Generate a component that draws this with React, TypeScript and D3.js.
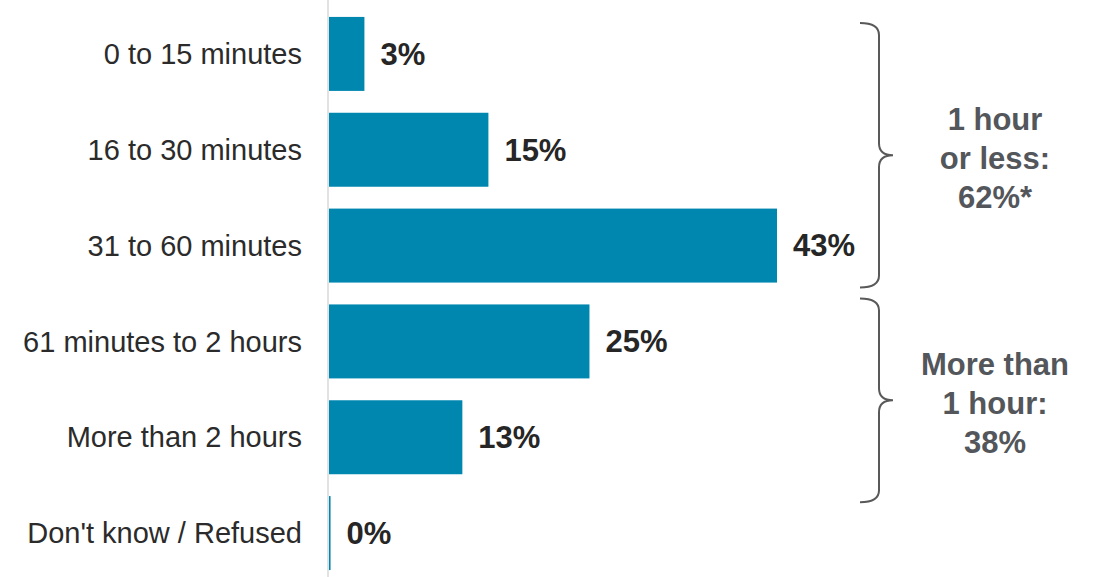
import * as d3 from "d3";

// Data
const categories = [
  "0 to 15 minutes",
  "16 to 30 minutes",
  "31 to 60 minutes",
  "61 minutes to 2 hours",
  "More than 2 hours",
  "Don't know / Refused",
];
const values = [3.4, 15.3, 43, 25, 12.8, 0.15];

const groupLabels = [
  ["1 hour", "or less:", "62%*"],
  ["More than", "1 hour:", "38%"],
];
const groupRanges = [
  [0, 2],
  [3, 4],
];

const WIDTH = 1099;
const HEIGHT = 577;
const BAR = "#0087AF";
const FONT = "'Liberation Sans', Arial, sans-serif";

export default function App() {
  const x = d3.scaleLinear().domain([0, 43]).range([329, 777]);
  const y = d3
    .scaleBand<string>()
    .domain(categories)
    .range([6, 581])
    .paddingInner(0.228)
    .paddingOuter(0.114);
  const bw = y.bandwidth();

  // brace geometry
  const bx0 = 860;
  const bxs = 879;
  const bxt = 893;
  const r = 12;
  const topPads = [6, -6];
  const endPads = [5, 28];

  const bracePath = (top: number, bottom: number) => {
    const mid = (top + bottom) / 2;
    return [
      `M${bx0},${top}`,
      `Q${bxs},${top} ${bxs},${top + r}`,
      `L${bxs},${mid - r}`,
      `Q${bxs},${mid} ${bxt},${mid}`,
      `Q${bxs},${mid} ${bxs},${mid + r}`,
      `L${bxs},${bottom - r}`,
      `Q${bxs},${bottom} ${bx0},${bottom}`,
    ].join(" ");
  };

  return (
    <svg
      width={WIDTH}
      height={HEIGHT}
      style={{ position: "absolute", left: 0, top: 0, background: "#fff" }}
      fontFamily={FONT}
    >
      {/* axis line */}
      <line x1={x(0) - 1} x2={x(0) - 1} y1={0} y2={HEIGHT} stroke="#d9d9d9" strokeWidth={1.5} />

      {categories.map((c, i) => {
        const yy = y(c)!;
        const v = values[i];
        return (
          <g key={c}>
            <rect x={x(0)} y={yy} width={Math.max(x(v) - x(0), 0)} height={bw} fill={BAR} />
            <text
              x={302}
              y={yy + bw / 2}
              dy="0.35em"
              textAnchor="end"
              fontSize={29}
              fill="#2b2b2b"
            >
              {c}
            </text>
            <text
              x={x(v) + 16}
              y={yy + bw / 2}
              dy="0.35em"
              fontSize={31}
              fontWeight="bold"
              fill="#262626"
            >
              {`${Math.round(v)}%`}
            </text>
          </g>
        );
      })}

      {groupRanges.map(([a, b], gi) => {
        const top = y(categories[a])! + topPads[gi];
        const bottom = y(categories[b])! + bw + endPads[gi];
        const mid = (top + bottom) / 2;
        return (
          <g key={gi}>
            <path d={bracePath(top, bottom)} fill="none" stroke="#595959" strokeWidth={2} />
            {groupLabels[gi].map((t, li) => (
              <text
                key={li}
                x={995}
                y={mid - 25 + li * 39}
                textAnchor="middle"
                fontSize={31}
                fontWeight="bold"
                fill="#53565A"
              >
                {t}
              </text>
            ))}
          </g>
        );
      })}
    </svg>
  );
}
